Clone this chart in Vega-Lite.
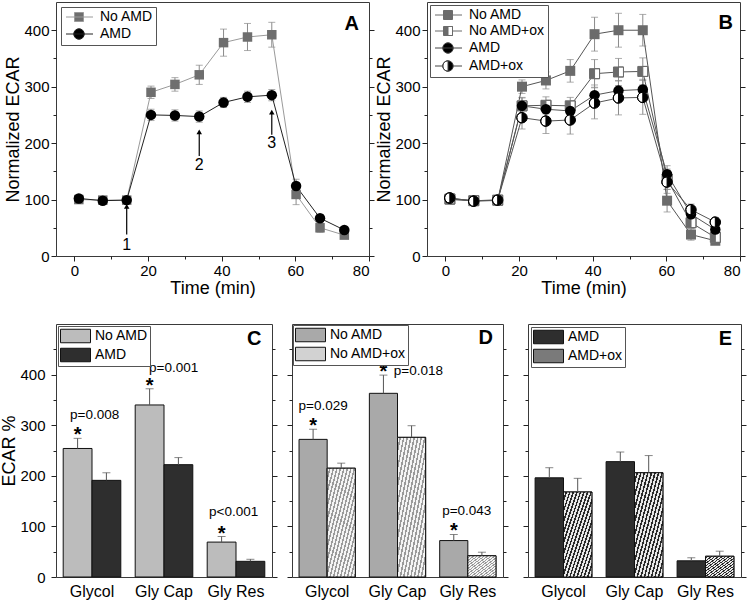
{
"$schema": "https://vega.github.io/schema/vega-lite/v6.json",
"padding": {"left": 0, "top": 1, "right": 0, "bottom": 0},
"background": "white",
"datasets": {
"a": [
{"t":1.2,"v":100,"e":4,"s":"No AMD"},{"t":7.7,"v":99,"e":3,"s":"No AMD"},{"t":14.2,"v":99,"e":3,"s":"No AMD"},{"t":20.8,"v":290,"e":11,"s":"No AMD"},{"t":27.3,"v":304,"e":12,"s":"No AMD"},{"t":33.9,"v":321,"e":17,"s":"No AMD"},{"t":40.5,"v":378,"e":24,"s":"No AMD"},{"t":47.0,"v":388,"e":24,"s":"No AMD"},{"t":53.6,"v":392,"e":22,"s":"No AMD"},{"t":60.2,"v":109,"e":18,"s":"No AMD"},{"t":66.7,"v":50,"e":8,"s":"No AMD"},{"t":73.3,"v":37,"e":6,"s":"No AMD"},
{"t":1.2,"v":102,"e":4,"s":"AMD"},{"t":7.7,"v":98,"e":3,"s":"AMD"},{"t":14.2,"v":99,"e":3,"s":"AMD"},{"t":20.8,"v":250,"e":10,"s":"AMD"},{"t":27.3,"v":249,"e":10,"s":"AMD"},{"t":33.9,"v":247,"e":10,"s":"AMD"},{"t":40.5,"v":272,"e":9,"s":"AMD"},{"t":47.0,"v":282,"e":10,"s":"AMD"},{"t":53.6,"v":285,"e":10,"s":"AMD"},{"t":60.2,"v":124,"e":12,"s":"AMD"},{"t":66.7,"v":67,"e":6,"s":"AMD"},{"t":73.3,"v":46,"e":5,"s":"AMD"}
],
"arrows": [
{"t":14.2,"ylo":38,"yhi":88,"lab":"1","ly":20},
{"t":33.9,"ylo":177,"yhi":220,"lab":"2","ly":161},
{"t":53.6,"ylo":215,"yhi":255,"lab":"3","ly":200}
],
"b": [
{"t":1.2,"v":100,"e":4,"s":"No AMD"},{"t":7.7,"v":98,"e":4,"s":"No AMD"},{"t":14.2,"v":98,"e":4,"s":"No AMD"},{"t":20.8,"v":300,"e":12,"s":"No AMD"},{"t":27.3,"v":311,"e":15,"s":"No AMD"},{"t":33.9,"v":328,"e":20,"s":"No AMD"},{"t":40.5,"v":393,"e":30,"s":"No AMD"},{"t":47.0,"v":400,"e":30,"s":"No AMD"},{"t":53.6,"v":400,"e":28,"s":"No AMD"},{"t":60.2,"v":98,"e":20,"s":"No AMD"},{"t":66.7,"v":38,"e":10,"s":"No AMD"},{"t":73.3,"v":27,"e":6,"s":"No AMD"},
{"t":1.2,"v":101,"e":4,"s":"No AMD+ox"},{"t":7.7,"v":98,"e":4,"s":"No AMD+ox"},{"t":14.2,"v":99,"e":4,"s":"No AMD+ox"},{"t":20.8,"v":266,"e":15,"s":"No AMD+ox"},{"t":27.3,"v":267,"e":15,"s":"No AMD+ox"},{"t":33.9,"v":266,"e":15,"s":"No AMD+ox"},{"t":40.5,"v":323,"e":25,"s":"No AMD+ox"},{"t":47.0,"v":326,"e":24,"s":"No AMD+ox"},{"t":53.6,"v":327,"e":24,"s":"No AMD+ox"},{"t":60.2,"v":136,"e":18,"s":"No AMD+ox"},{"t":66.7,"v":59,"e":10,"s":"No AMD+ox"},{"t":73.3,"v":33,"e":8,"s":"No AMD+ox"},
{"t":1.2,"v":102,"e":4,"s":"AMD"},{"t":7.7,"v":98,"e":4,"s":"AMD"},{"t":14.2,"v":99,"e":4,"s":"AMD"},{"t":20.8,"v":266,"e":14,"s":"AMD"},{"t":27.3,"v":260,"e":14,"s":"AMD"},{"t":33.9,"v":257,"e":14,"s":"AMD"},{"t":40.5,"v":285,"e":18,"s":"AMD"},{"t":47.0,"v":293,"e":18,"s":"AMD"},{"t":53.6,"v":295,"e":18,"s":"AMD"},{"t":60.2,"v":145,"e":15,"s":"AMD"},{"t":66.7,"v":74,"e":10,"s":"AMD"},{"t":73.3,"v":47,"e":8,"s":"AMD"},
{"t":1.2,"v":103,"e":4,"s":"AMD+ox"},{"t":7.7,"v":97,"e":4,"s":"AMD+ox"},{"t":14.2,"v":99,"e":4,"s":"AMD+ox"},{"t":20.8,"v":245,"e":20,"s":"AMD+ox"},{"t":27.3,"v":239,"e":22,"s":"AMD+ox"},{"t":33.9,"v":241,"e":25,"s":"AMD+ox"},{"t":40.5,"v":271,"e":28,"s":"AMD+ox"},{"t":47.0,"v":280,"e":30,"s":"AMD+ox"},{"t":53.6,"v":281,"e":30,"s":"AMD+ox"},{"t":60.2,"v":131,"e":20,"s":"AMD+ox"},{"t":66.7,"v":82,"e":10,"s":"AMD+ox"},{"t":73.3,"v":60,"e":8,"s":"AMD+ox"}
],
"c": [
{"cat":"Glycol","g":"No AMD","v":254,"hi":274,"p":"p=0.008"},{"cat":"Glycol","g":"AMD","v":191,"hi":206},
{"cat":"Gly Cap","g":"No AMD","v":340,"hi":372,"p":"p=0.001"},{"cat":"Gly Cap","g":"AMD","v":222,"hi":236},
{"cat":"Gly Res","g":"No AMD","v":69,"hi":80,"p":"p<0.001"},{"cat":"Gly Res","g":"AMD","v":31,"hi":35}
],
"d": [
{"cat":"Glycol","g":"No AMD","v":272,"hi":292,"p":"p=0.029"},{"cat":"Glycol","g":"No AMD+ox","v":215,"hi":225},
{"cat":"Gly Cap","g":"No AMD","v":363,"hi":399,"p":"p=0.018"},{"cat":"Gly Cap","g":"No AMD+ox","v":276,"hi":299},
{"cat":"Gly Res","g":"No AMD","v":72,"hi":84,"p":"p=0.043"},{"cat":"Gly Res","g":"No AMD+ox","v":42,"hi":49}
],
"e": [
{"cat":"Glycol","g":"AMD","v":196,"hi":216},{"cat":"Glycol","g":"AMD+ox","v":168,"hi":195},
{"cat":"Gly Cap","g":"AMD","v":228,"hi":247},{"cat":"Gly Cap","g":"AMD+ox","v":206,"hi":240},
{"cat":"Gly Res","g":"AMD","v":32,"hi":38},{"cat":"Gly Res","g":"AMD+ox","v":41,"hi":51}
]
},
"vconcat": [
{"hconcat": [
{
"width": 313, "height": 254,
"encoding": {"x": {"field": "t", "type": "quantitative", "scale": {"domain": [-5, 80], "nice": false, "zero": false}, "axis": {"values": [0, 10, 20, 30, 40, 50, 60, 70, 80], "labelExpr": "datum.value % 20 === 0 ? datum.label : ''", "tickSize": {"condition": {"test": "datum.value % 20 !== 0", "value": 3}, "value": 5}, "title": "Time (min)"}}},
"layer": [
{"data": {"name": "a"}, "mark": {"type": "errorbar", "color": "#8a8a8a", "thickness": 1, "ticks": {"size": 7, "color": "#8a8a8a"}},
 "encoding": {"y": {"field": "v", "type": "quantitative", "scale": {"domain": [0, 450], "nice": false}, "axis": {"values": [0, 50, 100, 150, 200, 250, 300, 350, 400], "labelExpr": "datum.value % 100 === 0 ? datum.label : ''", "tickSize": {"condition": {"test": "datum.value % 100 !== 0", "value": 3}, "value": 5}, "title": "Normalized ECAR"}}, "yError": {"field": "e"}}},
{"data": {"name": "a"}, "transform": [{"filter": "datum.s === 'No AMD'"}], "mark": {"type": "line", "strokeWidth": 1, "color": "#9a9a9a"},
 "encoding": {"y": {"field": "v", "type": "quantitative", "axis": {"orient": "right", "labels": false, "title": null, "values": [0, 50, 100, 150, 200, 250, 300, 350, 400], "tickSize": {"condition": {"test": "datum.value % 100 !== 0", "value": 3}, "value": 5}}}}},
{"data": {"name": "a"}, "transform": [{"filter": "datum.s === 'AMD'"}], "mark": {"type": "line", "strokeWidth": 1, "color": "#222222"},
 "encoding": {"y": {"field": "v", "type": "quantitative", "axis": null}}},
{"data": {"name": "a"}, "transform": [{"filter": "datum.s === 'No AMD'"}], "mark": {"type": "point", "shape": "square", "filled": true, "size": 90, "opacity": 1, "color": "#6e6e6e"},
 "encoding": {"y": {"field": "v", "type": "quantitative", "axis": null}}},
{"data": {"name": "a"}, "transform": [{"filter": "datum.s === 'AMD'"}], "mark": {"type": "point", "shape": "circle", "filled": true, "size": 110, "opacity": 1, "color": "#000000"},
 "encoding": {"y": {"field": "v", "type": "quantitative", "axis": null}}},
{"data": {"name": "a"}, "transform": [{"filter": "false"}], "mark": {"type": "point", "filled": true, "size": 100, "opacity": 1, "strokeWidth": 1},
 "encoding": {"y": {"field": "v", "type": "quantitative", "axis": null},
  "fill": {"field": "s", "type": "nominal", "scale": {"domain": ["No AMD", "AMD"], "range": ["#6e6e6e", "#000000"]},
   "legend": {"title": null, "orient": "top-left", "offset": 5, "symbolSize": 100, "symbolStrokeWidth": 1, "padding": 3, "rowPadding": 2, "labelOffset": 22}},
  "shape": {"field": "s", "type": "nominal", "scale": {"domain": ["No AMD", "AMD"], "range": ["M-1,0H4.4M0.7,-0.9H2.5V0.9H0.7Z", "M-1,0H4.4M1.6,-1.05A1.05,1.05 0 0,1 1.6,1.05A1.05,1.05 0 0,1 1.6,-1.05Z"]}},
  "stroke": {"field": "s", "type": "nominal", "scale": {"domain": ["No AMD", "AMD"], "range": ["#9a9a9a", "#222222"]}}}},
{"data": {"name": "arrows"}, "mark": {"type": "rule", "color": "#000", "strokeWidth": 1.2},
 "encoding": {"y": {"field": "ylo", "type": "quantitative", "axis": null}, "y2": {"field": "yhi"}}},
{"data": {"name": "arrows"}, "mark": {"type": "point", "shape": "triangle-up", "filled": true, "color": "#000", "size": 30, "opacity": 1},
 "encoding": {"y": {"field": "yhi", "type": "quantitative", "axis": null}}},
{"data": {"name": "arrows"}, "mark": {"type": "text", "fontSize": 16, "color": "#000", "baseline": "middle"},
 "encoding": {"y": {"field": "ly", "type": "quantitative", "axis": null}, "text": {"field": "lab"}}},
{"data": {"values": [{"t": 80, "v": 450}]}, "mark": {"type": "text", "text": "A", "fontSize": 20, "fontWeight": "bold", "align": "right", "baseline": "top", "dx": -10, "dy": 12, "color": "#000"},
 "encoding": {"y": {"field": "v", "type": "quantitative", "axis": null}}}
],
"resolve": {"axis": {"y": "independent"}}
},
{
"width": 313, "height": 254,
"encoding": {"x": {"field": "t", "type": "quantitative", "scale": {"domain": [-5, 80], "nice": false, "zero": false}, "axis": {"values": [0, 10, 20, 30, 40, 50, 60, 70, 80], "labelExpr": "datum.value % 20 === 0 ? datum.label : ''", "tickSize": {"condition": {"test": "datum.value % 20 !== 0", "value": 3}, "value": 5}, "title": "Time (min)"}}},
"layer": [
{"data": {"name": "b"}, "mark": {"type": "errorbar", "color": "#8a8a8a", "thickness": 1, "ticks": {"size": 7, "color": "#8a8a8a"}},
 "encoding": {"y": {"field": "v", "type": "quantitative", "scale": {"domain": [0, 450], "nice": false}, "axis": {"values": [0, 50, 100, 150, 200, 250, 300, 350, 400], "labelExpr": "datum.value % 100 === 0 ? datum.label : ''", "tickSize": {"condition": {"test": "datum.value % 100 !== 0", "value": 3}, "value": 5}, "title": "Normalized ECAR"}}, "yError": {"field": "e"}}},
{"data": {"name": "b"}, "mark": {"type": "line", "strokeWidth": 1, "color": "#555555"},
 "encoding": {"y": {"field": "v", "type": "quantitative", "axis": {"orient": "right", "labels": false, "title": null, "values": [0, 50, 100, 150, 200, 250, 300, 350, 400], "tickSize": {"condition": {"test": "datum.value % 100 !== 0", "value": 3}, "value": 5}}},
  "detail": {"field": "s", "type": "nominal"}}},
{"data": {"name": "b"}, "transform": [{"filter": "datum.s === 'No AMD'"}], "mark": {"type": "point", "shape": "square", "filled": true, "size": 100, "opacity": 1, "color": "#6b6b6b"},
 "encoding": {"y": {"field": "v", "type": "quantitative", "axis": null}}},
{"data": {"name": "b"}, "transform": [{"filter": "datum.s === 'No AMD+ox'"}], "mark": {"type": "point", "shape": "square", "filled": true, "color": "#ffffff", "size": 100, "opacity": 1},
 "encoding": {"y": {"field": "v", "type": "quantitative", "axis": null}}},
{"data": {"name": "b"}, "transform": [{"filter": "datum.s === 'No AMD+ox'"}], "mark": {"type": "point", "shape": "M-1,-1H1V1H-1ZM0,-1V1H1V-1Z", "filled": true, "fill": "#6b6b6b", "stroke": "#6b6b6b", "strokeWidth": 1, "size": 100, "opacity": 1},
 "encoding": {"y": {"field": "v", "type": "quantitative", "axis": null}}},
{"data": {"name": "b"}, "transform": [{"filter": "datum.s === 'AMD'"}], "mark": {"type": "point", "shape": "circle", "filled": true, "size": 110, "opacity": 1, "color": "#000000"},
 "encoding": {"y": {"field": "v", "type": "quantitative", "axis": null}}},
{"data": {"name": "b"}, "transform": [{"filter": "datum.s === 'AMD+ox'"}], "mark": {"type": "point", "shape": "circle", "filled": true, "color": "#ffffff", "size": 110, "opacity": 1},
 "encoding": {"y": {"field": "v", "type": "quantitative", "axis": null}}},
{"data": {"name": "b"}, "transform": [{"filter": "datum.s === 'AMD+ox'"}], "mark": {"type": "point", "shape": "M0,-1A1,1 0 0,1 0,1A1,1 0 0,1 0,-1ZM0,-1A1,1 0 0,0 0,1Z", "filled": true, "fill": "#000000", "stroke": "#000000", "strokeWidth": 1, "size": 110, "opacity": 1},
 "encoding": {"y": {"field": "v", "type": "quantitative", "axis": null}}},
{"data": {"name": "b"}, "transform": [{"filter": "false"}], "mark": {"type": "point", "filled": true, "size": 100, "opacity": 1, "strokeWidth": 1},
 "encoding": {"y": {"field": "v", "type": "quantitative", "axis": null},
  "fill": {"field": "s", "type": "nominal", "scale": {"domain": ["No AMD", "No AMD+ox", "AMD", "AMD+ox"], "range": ["#6b6b6b", "#6b6b6b", "#000000", "#000000"]},
   "legend": {"title": null, "orient": "top-left", "offset": 3, "symbolSize": 100, "symbolStrokeWidth": 1, "padding": 3, "rowPadding": 2, "labelOffset": 22}},
  "shape": {"field": "s", "type": "nominal", "scale": {"domain": ["No AMD", "No AMD+ox", "AMD", "AMD+ox"], "range": ["M-1,0H4.4M0.7,-0.9H2.5V0.9H0.7Z", "M-1,0H0.7M2.5,0H4.4M0.7,-0.9H2.5V0.9H0.7ZM1.6,-0.9V0.9H2.5V-0.9Z", "M-1,0H4.4M1.6,-1.05A1.05,1.05 0 0,1 1.6,1.05A1.05,1.05 0 0,1 1.6,-1.05Z", "M-1,0H0.55M2.65,0H4.4M1.6,-1.05A1.05,1.05 0 0,1 1.6,1.05A1.05,1.05 0 0,1 1.6,-1.05ZM1.6,-1.05A1.05,1.05 0 0,0 1.6,1.05Z"]}},
  "stroke": {"field": "s", "type": "nominal", "scale": {"domain": ["No AMD", "No AMD+ox", "AMD", "AMD+ox"], "range": ["#6b6b6b", "#6b6b6b", "#444444", "#444444"]}}}},
{"data": {"values": [{"t": 80, "v": 450}]}, "mark": {"type": "text", "text": "B", "fontSize": 20, "fontWeight": "bold", "align": "right", "baseline": "top", "dx": -7, "dy": 11, "color": "#000"},
 "encoding": {"y": {"field": "v", "type": "quantitative", "axis": null}}}
],
"resolve": {"axis": {"y": "independent"}}
}
], "spacing": 0,
"resolve": {"scale": {"x": "independent", "fill": "independent", "shape": "independent", "stroke": "independent", "color": "independent"}, "legend": {"fill": "independent", "shape": "independent", "stroke": "independent", "color": "independent"}}},
{"hconcat": [
{
"width": 216, "height": 253,
"data": {"name": "c"},
"encoding": {
 "x": {"field": "cat", "type": "nominal", "sort": ["Glycol", "Gly Cap", "Gly Res"], "scale": {"paddingInner": 0.2, "paddingOuter": 0.1}, "axis": {"title": null, "labelAngle": 0, "ticks": false, "tickSize": 0, "labelPadding": 6, "labelFontSize": 16}},
 "xOffset": {"field": "g", "type": "nominal", "sort": ["No AMD", "AMD"], "scale": {"paddingInner": 0, "paddingOuter": 0}}
},
"layer": [
{"mark": {"type": "bar", "stroke": "#111111", "strokeWidth": 1},
 "encoding": {"y": {"field": "v", "type": "quantitative", "scale": {"domain": [0, 500], "nice": false}, "axis": {"values": [0, 50, 100, 150, 200, 250, 300, 350, 400, 450], "labelExpr": "datum.value % 100 === 0 && datum.value < 450 ? datum.label : ''", "tickSize": {"condition": {"test": "datum.value % 100 !== 0", "value": 3}, "value": 5}, "title": "ECAR %", "labelPadding": 6}},
  "fill": {"field": "g", "type": "nominal", "sort": ["No AMD", "AMD"], "scale": {"domain": ["No AMD", "AMD"], "range": ["#bcbcbc", "#2e2e2e"]},
   "legend": {"title": null, "orient": "top-left", "offset": 2, "symbolType": "M-1,-0.9H3V0.9H-1Z", "symbolSize": 225, "symbolStrokeColor": "#111111", "symbolStrokeWidth": 1, "padding": 2, "rowPadding": 1, "labelOffset": 19}}}},
{"mark": {"type": "rule", "color": "#555555"},
 "encoding": {"y": {"field": "v", "type": "quantitative", "axis": {"orient": "right", "labels": false, "title": null, "values": [0, 50, 100, 150, 200, 250, 300, 350, 400, 450], "tickSize": {"condition": {"test": "datum.value % 100 !== 0", "value": 3}, "value": 5}}}, "y2": {"field": "hi"}}},
{"mark": {"type": "tick", "size": 8, "thickness": 1, "color": "#555555"},
 "encoding": {"y": {"field": "hi", "type": "quantitative", "axis": null}}},
{"transform": [{"filter": "datum.p"}], "mark": {"type": "text", "text": "*", "fontSize": 20, "fontWeight": "bold", "baseline": "alphabetic", "dy": 3, "color": "#000"},
 "encoding": {"y": {"field": "hi", "type": "quantitative", "axis": null}}},
{"transform": [{"filter": "datum.cat === 'Glycol' && datum.p"}], "mark": {"type": "text", "fontSize": 13.5, "baseline": "alphabetic", "dy": -19, "dx": 17, "color": "#000"},
 "encoding": {"y": {"field": "hi", "type": "quantitative", "axis": null}, "text": {"field": "p"}}},
{"transform": [{"filter": "datum.cat === 'Gly Cap' && datum.p"}], "mark": {"type": "text", "fontSize": 13.5, "baseline": "alphabetic", "dy": -17, "dx": 24, "color": "#000"},
 "encoding": {"y": {"field": "hi", "type": "quantitative", "axis": null}, "text": {"field": "p"}}},
{"transform": [{"filter": "datum.cat === 'Gly Res' && datum.p"}], "mark": {"type": "text", "fontSize": 13.5, "baseline": "alphabetic", "dy": -21, "dx": 12, "color": "#000"},
 "encoding": {"y": {"field": "hi", "type": "quantitative", "axis": null}, "text": {"field": "p"}}},
{"data": {"values": [{}]}, "mark": {"type": "text", "text": "C", "fontSize": 20, "fontWeight": "bold", "align": "right", "baseline": "top", "dx": 11, "dy": 5, "color": "#000"},
 "encoding": {"x": {"datum": "Gly Res"}, "xOffset": {"datum": "AMD"}, "y": {"datum": 500, "type": "quantitative", "axis": null}}}
],
"resolve": {"axis": {"y": "independent"}}
},
{"hconcat": [
{
"width": 211, "height": 253,
"data": {"name": "d"},
"encoding": {
 "x": {"field": "cat", "type": "nominal", "sort": ["Glycol", "Gly Cap", "Gly Res"], "scale": {"paddingInner": 0.2, "paddingOuter": 0.1}, "axis": {"title": null, "labelAngle": 0, "ticks": false, "tickSize": 0, "labelPadding": 6, "labelFontSize": 16}},
 "xOffset": {"field": "g", "type": "nominal", "sort": ["No AMD", "No AMD+ox"], "scale": {"paddingInner": 0, "paddingOuter": 0}}
},
"layer": [
{"mark": {"type": "bar", "stroke": "#111111", "strokeWidth": 1},
 "encoding": {"y": {"field": "v", "type": "quantitative", "scale": {"domain": [0, 500], "nice": false}, "axis": {"values": [0, 50, 100, 150, 200, 250, 300, 350, 400, 450], "labels": false, "tickSize": {"condition": {"test": "datum.value % 100 !== 0", "value": 3}, "value": 5}, "title": null}},
  "fill": {"field": "g", "type": "nominal", "sort": ["No AMD", "No AMD+ox"], "scale": {"domain": ["No AMD", "No AMD+ox"], "range": ["#a9a9a9", "#d2d2d2"]},
   "legend": {"title": null, "orient": "top-left", "offset": 1, "symbolType": "M-1,-0.9H3V0.9H-1Z", "symbolSize": 225, "symbolStrokeColor": "#111111", "symbolStrokeWidth": 1, "padding": 2, "rowPadding": 1, "labelOffset": 19}}}},
{"transform": [{"filter": "datum.g === 'No AMD+ox'"}],
 "mark": {"type": "bar", "stroke": "#111111", "strokeWidth": 1, "fill": {"gradient": "linear", "x1": 0, "y1": 0, "x2": 1, "y2": 1, "stops": [
{"offset":0,"color":"#f4f4f4"},{"offset":0.035,"color":"#f4f4f4"},{"offset":0.035,"color":"#9a9a9a"},{"offset":0.0625,"color":"#9a9a9a"},
{"offset":0.0625,"color":"#f4f4f4"},{"offset":0.0975,"color":"#f4f4f4"},{"offset":0.0975,"color":"#9a9a9a"},{"offset":0.125,"color":"#9a9a9a"},
{"offset":0.125,"color":"#f4f4f4"},{"offset":0.16,"color":"#f4f4f4"},{"offset":0.16,"color":"#9a9a9a"},{"offset":0.1875,"color":"#9a9a9a"},
{"offset":0.1875,"color":"#f4f4f4"},{"offset":0.2225,"color":"#f4f4f4"},{"offset":0.2225,"color":"#9a9a9a"},{"offset":0.25,"color":"#9a9a9a"},
{"offset":0.25,"color":"#f4f4f4"},{"offset":0.285,"color":"#f4f4f4"},{"offset":0.285,"color":"#9a9a9a"},{"offset":0.3125,"color":"#9a9a9a"},
{"offset":0.3125,"color":"#f4f4f4"},{"offset":0.3475,"color":"#f4f4f4"},{"offset":0.3475,"color":"#9a9a9a"},{"offset":0.375,"color":"#9a9a9a"},
{"offset":0.375,"color":"#f4f4f4"},{"offset":0.41,"color":"#f4f4f4"},{"offset":0.41,"color":"#9a9a9a"},{"offset":0.4375,"color":"#9a9a9a"},
{"offset":0.4375,"color":"#f4f4f4"},{"offset":0.4725,"color":"#f4f4f4"},{"offset":0.4725,"color":"#9a9a9a"},{"offset":0.5,"color":"#9a9a9a"},
{"offset":0.5,"color":"#f4f4f4"},{"offset":0.535,"color":"#f4f4f4"},{"offset":0.535,"color":"#9a9a9a"},{"offset":0.5625,"color":"#9a9a9a"},
{"offset":0.5625,"color":"#f4f4f4"},{"offset":0.5975,"color":"#f4f4f4"},{"offset":0.5975,"color":"#9a9a9a"},{"offset":0.625,"color":"#9a9a9a"},
{"offset":0.625,"color":"#f4f4f4"},{"offset":0.66,"color":"#f4f4f4"},{"offset":0.66,"color":"#9a9a9a"},{"offset":0.6875,"color":"#9a9a9a"},
{"offset":0.6875,"color":"#f4f4f4"},{"offset":0.7225,"color":"#f4f4f4"},{"offset":0.7225,"color":"#9a9a9a"},{"offset":0.75,"color":"#9a9a9a"},
{"offset":0.75,"color":"#f4f4f4"},{"offset":0.785,"color":"#f4f4f4"},{"offset":0.785,"color":"#9a9a9a"},{"offset":0.8125,"color":"#9a9a9a"},
{"offset":0.8125,"color":"#f4f4f4"},{"offset":0.8475,"color":"#f4f4f4"},{"offset":0.8475,"color":"#9a9a9a"},{"offset":0.875,"color":"#9a9a9a"},
{"offset":0.875,"color":"#f4f4f4"},{"offset":0.91,"color":"#f4f4f4"},{"offset":0.91,"color":"#9a9a9a"},{"offset":0.9375,"color":"#9a9a9a"},
{"offset":0.9375,"color":"#f4f4f4"},{"offset":0.9725,"color":"#f4f4f4"},{"offset":0.9725,"color":"#9a9a9a"},{"offset":1,"color":"#9a9a9a"}
]}},
 "encoding": {"y": {"field": "v", "type": "quantitative", "axis": null}}},
{"mark": {"type": "rule", "color": "#555555"},
 "encoding": {"y": {"field": "v", "type": "quantitative", "axis": {"orient": "right", "labels": false, "title": null, "values": [0, 50, 100, 150, 200, 250, 300, 350, 400, 450], "tickSize": {"condition": {"test": "datum.value % 100 !== 0", "value": 3}, "value": 5}}}, "y2": {"field": "hi"}}},
{"mark": {"type": "tick", "size": 8, "thickness": 1, "color": "#555555"},
 "encoding": {"y": {"field": "hi", "type": "quantitative", "axis": null}}},
{"transform": [{"filter": "datum.p"}], "mark": {"type": "text", "text": "*", "fontSize": 20, "fontWeight": "bold", "baseline": "alphabetic", "dy": 3, "color": "#000"},
 "encoding": {"y": {"field": "hi", "type": "quantitative", "axis": null}}},
{"transform": [{"filter": "datum.cat === 'Glycol' && datum.p"}], "mark": {"type": "text", "fontSize": 13.5, "baseline": "alphabetic", "dy": -19, "dx": 10, "color": "#000"},
 "encoding": {"y": {"field": "hi", "type": "quantitative", "axis": null}, "text": {"field": "p"}}},
{"transform": [{"filter": "datum.cat === 'Gly Cap' && datum.p"}], "mark": {"type": "text", "fontSize": 13.5, "baseline": "alphabetic", "dy": 0, "dx": 35, "color": "#000"},
 "encoding": {"y": {"field": "hi", "type": "quantitative", "axis": null}, "text": {"field": "p"}}},
{"transform": [{"filter": "datum.cat === 'Gly Res' && datum.p"}], "mark": {"type": "text", "fontSize": 13.5, "baseline": "alphabetic", "dy": -19, "dx": 13, "color": "#000"},
 "encoding": {"y": {"field": "hi", "type": "quantitative", "axis": null}, "text": {"field": "p"}}},
{"data": {"values": [{}]}, "mark": {"type": "text", "text": "D", "fontSize": 20, "fontWeight": "bold", "align": "right", "baseline": "top", "dx": 11, "dy": 4, "color": "#000"},
 "encoding": {"x": {"datum": "Gly Res"}, "xOffset": {"datum": "No AMD+ox"}, "y": {"datum": 500, "type": "quantitative", "axis": null}}}
],
"resolve": {"axis": {"y": "independent"}}
},
{
"width": 213, "height": 253,
"data": {"name": "e"},
"encoding": {
 "x": {"field": "cat", "type": "nominal", "sort": ["Glycol", "Gly Cap", "Gly Res"], "scale": {"paddingInner": 0.2, "paddingOuter": 0.1}, "axis": {"title": null, "labelAngle": 0, "ticks": false, "tickSize": 0, "labelPadding": 6, "labelFontSize": 16}},
 "xOffset": {"field": "g", "type": "nominal", "sort": ["AMD", "AMD+ox"], "scale": {"paddingInner": 0, "paddingOuter": 0}}
},
"layer": [
{"mark": {"type": "bar", "stroke": "#111111", "strokeWidth": 1},
 "encoding": {"y": {"field": "v", "type": "quantitative", "scale": {"domain": [0, 500], "nice": false}, "axis": {"values": [0, 50, 100, 150, 200, 250, 300, 350, 400, 450], "labels": false, "tickSize": {"condition": {"test": "datum.value % 100 !== 0", "value": 3}, "value": 5}, "title": null}},
  "fill": {"field": "g", "type": "nominal", "sort": ["AMD", "AMD+ox"], "scale": {"domain": ["AMD", "AMD+ox"], "range": ["#2e2e2e", "#7a7a7a"]},
   "legend": {"title": null, "orient": "top-left", "offset": 3, "symbolType": "M-1,-0.9H3V0.9H-1Z", "symbolSize": 225, "symbolStrokeColor": "#111111", "symbolStrokeWidth": 1, "padding": 2, "rowPadding": 1, "labelOffset": 19}}}},
{"transform": [{"filter": "datum.g === 'AMD+ox'"}],
 "mark": {"type": "bar", "stroke": "#111111", "strokeWidth": 1, "fill": {"gradient": "linear", "x1": 0, "y1": 0, "x2": 1, "y2": 1, "stops": [
{"offset":0,"color":"#e8e8e8"},{"offset":0.035,"color":"#e8e8e8"},{"offset":0.035,"color":"#2a2a2a"},{"offset":0.0625,"color":"#2a2a2a"},
{"offset":0.0625,"color":"#e8e8e8"},{"offset":0.0975,"color":"#e8e8e8"},{"offset":0.0975,"color":"#2a2a2a"},{"offset":0.125,"color":"#2a2a2a"},
{"offset":0.125,"color":"#e8e8e8"},{"offset":0.16,"color":"#e8e8e8"},{"offset":0.16,"color":"#2a2a2a"},{"offset":0.1875,"color":"#2a2a2a"},
{"offset":0.1875,"color":"#e8e8e8"},{"offset":0.2225,"color":"#e8e8e8"},{"offset":0.2225,"color":"#2a2a2a"},{"offset":0.25,"color":"#2a2a2a"},
{"offset":0.25,"color":"#e8e8e8"},{"offset":0.285,"color":"#e8e8e8"},{"offset":0.285,"color":"#2a2a2a"},{"offset":0.3125,"color":"#2a2a2a"},
{"offset":0.3125,"color":"#e8e8e8"},{"offset":0.3475,"color":"#e8e8e8"},{"offset":0.3475,"color":"#2a2a2a"},{"offset":0.375,"color":"#2a2a2a"},
{"offset":0.375,"color":"#e8e8e8"},{"offset":0.41,"color":"#e8e8e8"},{"offset":0.41,"color":"#2a2a2a"},{"offset":0.4375,"color":"#2a2a2a"},
{"offset":0.4375,"color":"#e8e8e8"},{"offset":0.4725,"color":"#e8e8e8"},{"offset":0.4725,"color":"#2a2a2a"},{"offset":0.5,"color":"#2a2a2a"},
{"offset":0.5,"color":"#e8e8e8"},{"offset":0.535,"color":"#e8e8e8"},{"offset":0.535,"color":"#2a2a2a"},{"offset":0.5625,"color":"#2a2a2a"},
{"offset":0.5625,"color":"#e8e8e8"},{"offset":0.5975,"color":"#e8e8e8"},{"offset":0.5975,"color":"#2a2a2a"},{"offset":0.625,"color":"#2a2a2a"},
{"offset":0.625,"color":"#e8e8e8"},{"offset":0.66,"color":"#e8e8e8"},{"offset":0.66,"color":"#2a2a2a"},{"offset":0.6875,"color":"#2a2a2a"},
{"offset":0.6875,"color":"#e8e8e8"},{"offset":0.7225,"color":"#e8e8e8"},{"offset":0.7225,"color":"#2a2a2a"},{"offset":0.75,"color":"#2a2a2a"},
{"offset":0.75,"color":"#e8e8e8"},{"offset":0.785,"color":"#e8e8e8"},{"offset":0.785,"color":"#2a2a2a"},{"offset":0.8125,"color":"#2a2a2a"},
{"offset":0.8125,"color":"#e8e8e8"},{"offset":0.8475,"color":"#e8e8e8"},{"offset":0.8475,"color":"#2a2a2a"},{"offset":0.875,"color":"#2a2a2a"},
{"offset":0.875,"color":"#e8e8e8"},{"offset":0.91,"color":"#e8e8e8"},{"offset":0.91,"color":"#2a2a2a"},{"offset":0.9375,"color":"#2a2a2a"},
{"offset":0.9375,"color":"#e8e8e8"},{"offset":0.9725,"color":"#e8e8e8"},{"offset":0.9725,"color":"#2a2a2a"},{"offset":1,"color":"#2a2a2a"}
]}},
 "encoding": {"y": {"field": "v", "type": "quantitative", "axis": null}}},
{"mark": {"type": "rule", "color": "#555555"},
 "encoding": {"y": {"field": "v", "type": "quantitative", "axis": {"orient": "right", "labels": false, "title": null, "values": [0, 50, 100, 150, 200, 250, 300, 350, 400, 450], "tickSize": {"condition": {"test": "datum.value % 100 !== 0", "value": 3}, "value": 5}}}, "y2": {"field": "hi"}}},
{"mark": {"type": "tick", "size": 8, "thickness": 1, "color": "#555555"},
 "encoding": {"y": {"field": "hi", "type": "quantitative", "axis": null}}},
{"data": {"values": [{}]}, "mark": {"type": "text", "text": "E", "fontSize": 20, "fontWeight": "bold", "align": "right", "baseline": "top", "dx": 12.5, "dy": 5, "color": "#000"},
 "encoding": {"x": {"datum": "Gly Res"}, "xOffset": {"datum": "AMD+ox"}, "y": {"datum": 500, "type": "quantitative", "axis": null}}}
],
"resolve": {"axis": {"y": "independent"}}
}
], "spacing": 13,
"resolve": {"scale": {"x": "independent", "xOffset": "independent", "fill": "independent", "shape": "independent", "stroke": "independent", "color": "independent"}, "legend": {"fill": "independent", "shape": "independent", "stroke": "independent", "color": "independent"}}}
], "spacing": 8,
"resolve": {"scale": {"x": "independent", "xOffset": "independent", "fill": "independent", "shape": "independent", "stroke": "independent", "color": "independent"}, "legend": {"fill": "independent", "shape": "independent", "stroke": "independent", "color": "independent"}}}
],
"spacing": 25,
"resolve": {"scale": {"x": "independent", "xOffset": "independent", "fill": "independent", "shape": "independent", "stroke": "independent", "color": "independent"}, "legend": {"fill": "independent", "shape": "independent", "stroke": "independent", "color": "independent"}},
"config": {
 "font": "Liberation Sans",
 "view": {"stroke": "#3a3a3a", "strokeWidth": 1},
 "axis": {"grid": false, "domain": false, "tickColor": "#222222", "tickSize": 5, "tickWidth": 1, "labelFontSize": 15, "labelColor": "#000000", "labelPadding": 2, "titleFontSize": 18, "titleFontWeight": "normal", "titleColor": "#000000", "titlePadding": 1, "labelFont": "Liberation Sans", "titleFont": "Liberation Sans"},
 "legend": {"labelFontSize": 14, "labelColor": "#000000", "labelFont": "Liberation Sans", "strokeColor": "#555555", "fillColor": "#ffffff"}
}
}
